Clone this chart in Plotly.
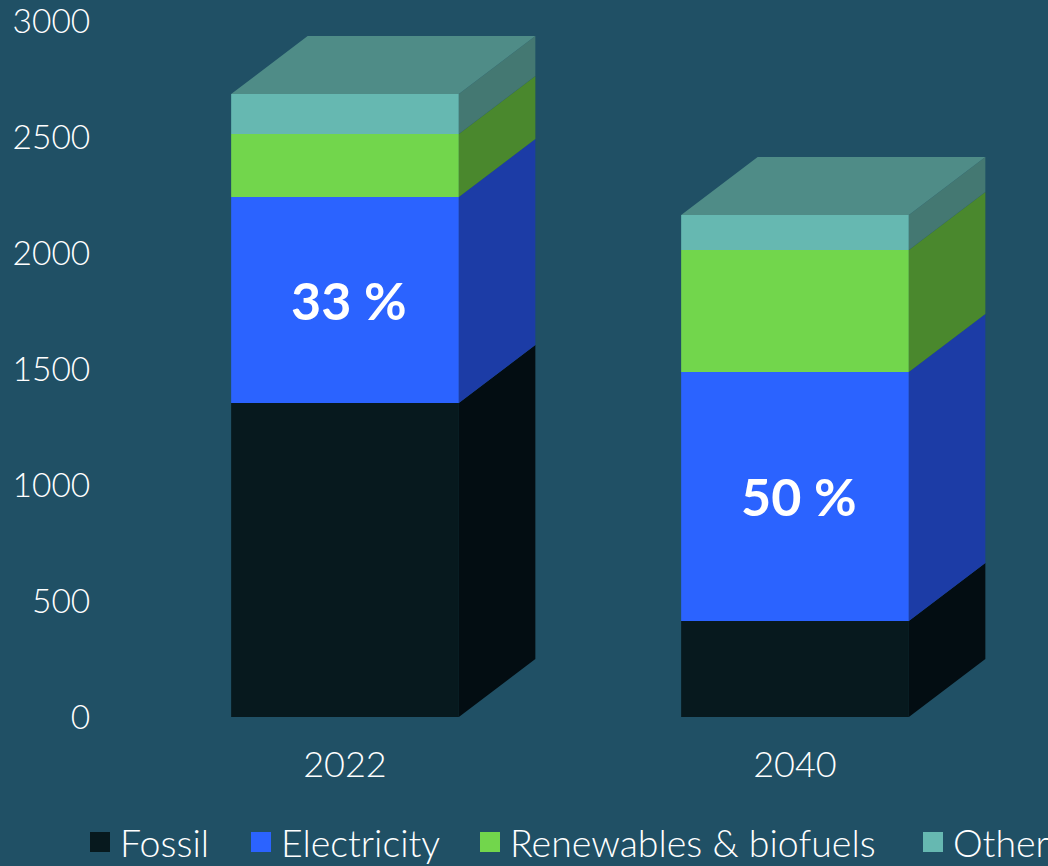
import plotly.graph_objects as go

years = ["2022", "2040"]
series = ["Fossil", "Electricity", "Renewables & biofuels", "Other"]
fossil = [1353, 414]
electricity = [888, 1073]
renewables = [272, 526]
other = [172, 151]
share_labels = ["33 %", "50 %"]
front_colors = ["#07191E", "#2B63FF", "#72D64C", "#66B8B1"]
side_colors = ["#030D12", "#1C3CA6", "#4A882D", "#447872"]
top_color = "#4F8C87"
bg = "#205065"
values = [fossil, electricity, renewables, other]
legend_left_px = [80, 241, 470, 913]

BAR_W = 0.506
DX = 0.170
DY = 250
FONT = "Lato"
W, H = 1048, 866
xs = list(range(len(years)))

fig = go.Figure()
base = [0 for _ in xs]
for name, vals, fc, sc in zip(series, values, front_colors, side_colors):
    fig.add_bar(x=xs, y=vals, base=base, width=BAR_W, marker=dict(color=fc, line=dict(width=0)),
                showlegend=False, hoverinfo="skip")
    px, py = [], []
    for i in xs:
        r = i + BAR_W / 2
        px += [r, r + DX, r + DX, r, r, None]
        py += [base[i], base[i] + DY, base[i] + vals[i] + DY, base[i] + vals[i], base[i], None]
    fig.add_scatter(x=px, y=py, mode="lines", fill="toself", fillcolor=sc, line=dict(width=0),
                    showlegend=False, hoverinfo="skip")
    base = [b + v for b, v in zip(base, vals)]

px, py = [], []
for i in xs:
    l, r = i - BAR_W / 2, i + BAR_W / 2
    t = base[i]
    px += [l, r, r + DX, l + DX, l, None]
    py += [t, t, t + DY, t + DY, t, None]
fig.add_scatter(x=px, y=py, mode="lines", fill="toself", fillcolor=top_color, line=dict(width=0),
                showlegend=False, hoverinfo="skip")

legend_layouts = {}
for k, (name, fc, lx) in enumerate(zip(series, front_colors, legend_left_px)):
    key = "legend" if k == 0 else f"legend{k + 1}"
    fig.add_scatter(x=[None], y=[None], mode="markers", name=name, legend=key,
                    marker=dict(symbol="square", size=16, color=fc, line=dict(width=4, color=fc)))
    legend_layouts[key] = dict(
        xref="container", yref="container", x=lx / W, xanchor="left",
        y=(H - 842) / H, yanchor="middle", orientation="h", itemsizing="trace",
        font=dict(size=37.5, color="white", family=FONT, weight=300),
        bgcolor="rgba(0,0,0,0)", itemclick=False, itemdoubleclick=False,
    )

for i in xs:
    fig.add_annotation(x=i, y=fossil[i] + electricity[i] / 2, text=f"<b>{share_labels[i]}</b>",
                       showarrow=False, xshift=4, font=dict(family=FONT, size=52, color="white"))

fig.update_layout(
    width=W, height=H, autosize=False,
    paper_bgcolor=bg, plot_bgcolor=bg,
    margin=dict(l=120, r=28, t=21, b=149, autoexpand=False),
    barmode="overlay",
    font=dict(family=FONT, color="white"),
    xaxis=dict(range=[-0.5, 1.5], tickvals=xs, ticktext=years, showgrid=False, zeroline=False,
               showline=False, ticks="outside", ticklen=16, tickcolor="rgba(0,0,0,0)", tickwidth=0,
               tickfont=dict(size=36, color="white", weight=300), fixedrange=True),
    yaxis=dict(range=[0, 3000], tick0=0, dtick=500, showgrid=False, zeroline=False, showline=False,
               ticks="outside", ticklen=22, tickcolor="rgba(0,0,0,0)", tickwidth=0,
               ticklabeloverflow="allow",
               tickfont=dict(size=33.5, color="white", weight=300), fixedrange=True),
    **legend_layouts,
)
fig.write_html("out.html", config=dict(displayModeBar=False),
               post_script=f"document.body.style.margin='0';document.body.style.background='{bg}';")
